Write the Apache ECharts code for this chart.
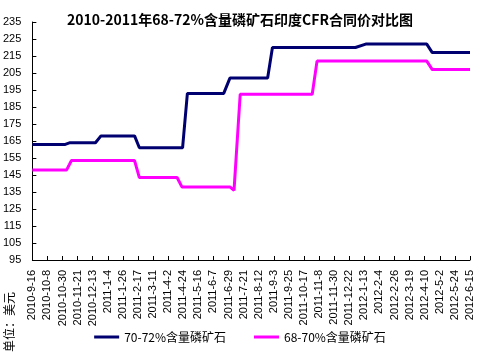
<!DOCTYPE html>
<html>
<head>
<meta charset="utf-8">
<script src="https://cdn.jsdelivr.net/npm/echarts@6/dist/echarts.min.js"></script>
<style>
html,body{margin:0;padding:0;background:#fff;}
#chart{width:480px;height:352px;}
</style>
</head>
<body>
<div id="chart"></div>
<script>
// tick labels on the date axis (every 22 days)
var xLabels = ['2010-9-16','2010-10-8','2010-10-30','2010-11-21','2010-12-13','2011-1-4','2011-1-26',
  '2011-2-17','2011-3-11','2011-4-2','2011-4-24','2011-5-16','2011-6-7','2011-6-29','2011-7-21',
  '2011-8-12','2011-9-3','2011-9-25','2011-10-17','2011-11-8','2011-11-30','2011-12-22','2012-1-13',
  '2012-2-4','2012-2-26','2012-3-19','2012-4-10','2012-5-2','2012-5-24','2012-6-15'];
var yLabels = [95,105,115,125,135,145,155,165,175,185,195,205,215,225,235];

// 70-72% series (dates where price holds / changes)
var hiDates  = ['2010-9-16','2010-11-3','2010-11-10','2010-12-17','2010-12-25','2011-2-12','2011-2-19',
  '2011-4-23','2011-4-30','2011-6-22','2011-7-1','2011-8-25','2011-9-1','2011-12-31','2012-1-15',
  '2012-4-13','2012-4-21','2012-6-15'];
var hiValues = [163,163,164,164,168,168,161,161,193,193,202,202,220,220,222,222,217,217];

// 68-70% series
var loDates  = ['2010-9-16','2010-11-5','2010-11-12','2011-2-12','2011-2-19','2011-4-15','2011-4-22',
  '2011-7-1','2011-7-7','2011-7-16','2011-10-29','2011-11-5','2012-4-13','2012-4-21','2012-6-15'];
var loValues = [148,148,153.5,153.5,143.5,143.5,138,138,136,192.5,192.5,212,212,207,207];

var names = ['70-72%含量磷矿石','68-70%含量磷矿石'];

function toDay(s){
  var p = s.split('-');
  return (Date.UTC(+p[0], +p[1]-1, +p[2]) - Date.UTC(2010, 8, 16)) / 86400000;
}
function pairs(dates, vals){
  return dates.map(function(d,i){ return [toDay(d), vals[i]]; });
}
var xTicks = xLabels.map(toDay);

var chart = echarts.init(document.getElementById('chart'));
var font = 'Liberation Sans, Arial, sans-serif';
chart.setOption({
  animation: false,
  backgroundColor: '#fff',
  title: {
    text: '2010-2011年68-72%含量磷矿石印度CFR合同价对比图',
    left: 'center', top: 8,
    textStyle: {fontSize: 14, fontWeight: 'bold', color: '#000', fontFamily: 'Noto Sans CJK SC'}
  },
  legend: {
    bottom: 4, left: 'center',
    icon: 'rect', itemWidth: 25, itemHeight: 3, itemGap: 28,
    textStyle: {fontSize: 12, color: '#000', fontFamily: 'Noto Sans CJK SC'},
    data: names
  },
  graphic: [{
    type: 'text', left: 3, top: 292, rotation: Math.PI/2,
    style: {text: '单位：美元', fontSize: 12, fill: '#000', fontFamily: 'Noto Sans CJK SC'}
  }],
  grid: {left: 32, right: 10, top: 22, bottom: 92, containLabel: false},
  xAxis: {
    type: 'value', min: 0, max: 638,
    splitLine: {show: false},
    axisLine: {lineStyle: {color: '#000', width: 1}},
    axisTick: {inside: true, length: 4, customValues: xTicks, lineStyle: {color: '#000'}},
    axisLabel: {
      customValues: xTicks, rotate: 90, margin: 10, fontSize: 11, color: '#000', fontFamily: font,
      formatter: function(v){ var i = xTicks.indexOf(Math.round(v)); return i >= 0 ? xLabels[i] : ''; }
    }
  },
  yAxis: {
    type: 'value', min: 95, max: 235,
    splitLine: {show: false},
    axisLine: {show: true, lineStyle: {color: '#000', width: 1}},
    axisTick: {show: true, inside: true, length: 4, customValues: yLabels, lineStyle: {color: '#000'}},
    axisLabel: {customValues: yLabels, margin: 11, fontSize: 11, color: '#000', fontFamily: font}
  },
  series: [
    {name: names[0], type: 'line', showSymbol: false, data: pairs(hiDates, hiValues),
     color: '#000070', lineStyle: {width: 3, color: '#000070'}},
    {name: names[1], type: 'line', showSymbol: false, data: pairs(loDates, loValues),
     color: '#ff00ff', lineStyle: {width: 3, color: '#ff00ff'}}
  ]
});
</script>
</body>
</html>
